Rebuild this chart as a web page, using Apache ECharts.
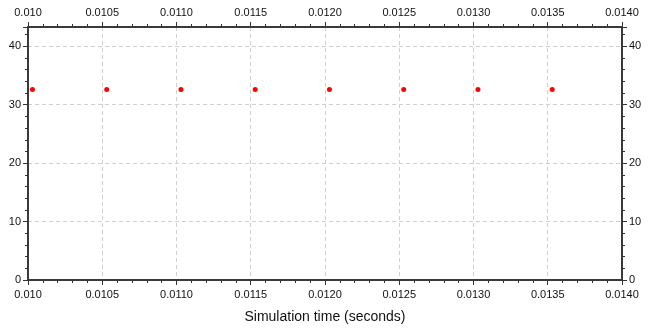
<!DOCTYPE html>
<html>
<head>
<meta charset="utf-8">
<script src="https://cdn.jsdelivr.net/npm/echarts@6/dist/echarts.min.js"></script>
<style>
  html, body { margin: 0; padding: 0; background: #fff; }
  #chart { width: 655px; height: 330px; }
</style>
</head>
<body>
<div id="chart"></div>
<script>
// ===== data =====
const timeValues = [0.01003, 0.01053, 0.01103, 0.01153, 0.01203, 0.01253, 0.01303, 0.01353]
const seriesValues = [32.6, 32.6, 32.6, 32.6, 32.6, 32.6, 32.6, 32.6]
const xTickLabels = ['0.010', '0.0105', '0.0110', '0.0115', '0.0120', '0.0125', '0.0130', '0.0135', '0.0140']
const yTickLabels = ['0', '10', '20', '30', '40']

const X_MIN = 0.010, X_MAX = 0.014, X_STEP = 0.0005
const Y_MIN = 0, Y_MAX = 43.3, Y_STEP = 10

const font = 'Liberation Sans'

function xLabel(v) {
  const i = Math.round((v - X_MIN) / X_STEP)
  return xTickLabels[i] ?? ''
}
function yLabel(v) {
  const i = Math.round(v / Y_STEP)
  if (Math.abs(v - i * Y_STEP) > 1e-6) return ''
  return yTickLabels[i] ?? ''
}

const frameLine = { lineStyle: { color: '#3a3a3a', width: 2 } }
const tick = { show: true, inside: false, length: 5, lineStyle: { color: '#333', width: 1 } }
const minorTick = { show: true, splitNumber: 5, length: 3, lineStyle: { color: '#333', width: 1 } }
const grid = { show: true, type: [4, 3], color: '#d0d0d0', width: 1 }

function xAxis(position, extra) {
  return Object.assign({
    type: 'value',
    position,
    min: X_MIN,
    max: X_MAX,
    interval: X_STEP,
    axisLine: { show: true, onZero: false, ...frameLine },
    axisTick: tick,
    minorTick,
    axisLabel: { formatter: xLabel, fontFamily: font, fontSize: 11, color: '#111', margin: 9 },
    splitLine: { show: false },
  }, extra)
}

function yAxis(position, extra) {
  return Object.assign({
    type: 'value',
    position,
    min: Y_MIN,
    max: Y_MAX,
    interval: Y_STEP,
    axisLine: { show: true, onZero: false, ...frameLine },
    axisTick: tick,
    minorTick,
    axisLabel: { formatter: yLabel, fontFamily: font, fontSize: 11, color: '#111', margin: 7, showMaxLabel: false },
    splitLine: { show: false },
  }, extra)
}

const chart = echarts.init(document.getElementById('chart'))
chart.setOption({
  animation: false,
  grid: { left: 28, right: 33, top: 27, bottom: 50, containLabel: false },
  xAxis: [
    xAxis('bottom', {
      name: 'Simulation time (seconds)',
      nameLocation: 'middle',
      nameGap: 30,
      nameTextStyle: { fontFamily: font, fontSize: 14, color: '#111' },
      splitLine: { lineStyle: grid, show: true },
    }),
    xAxis('top', {}),
  ],
  yAxis: [
    yAxis('left', { splitLine: { lineStyle: grid, show: true } }),
    yAxis('right', {}),
  ],
  series: [
    {
      type: 'scatter',
      xAxisIndex: 0,
      yAxisIndex: 0,
      data: timeValues.map((t, i) => [t, seriesValues[i]]),
      symbol: 'circle',
      symbolSize: 5,
      itemStyle: { color: '#ff0000', opacity: 1 },
    },
  ],
})
</script>
</body>
</html>
